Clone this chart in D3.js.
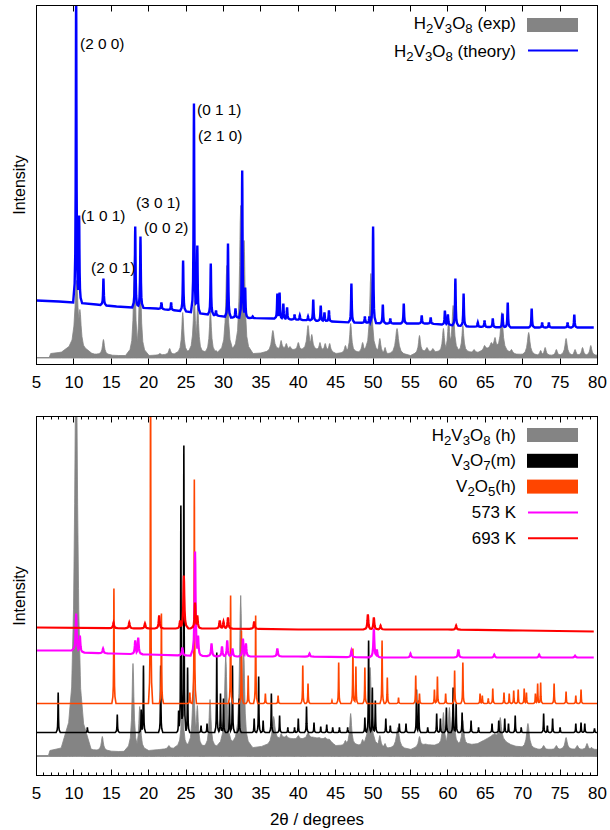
<!DOCTYPE html>
<html><head><meta charset="utf-8">
<script src="https://cdn.jsdelivr.net/npm/d3@7"></script>
<style>
body{margin:0;background:#fff}
svg text{font-family:"Liberation Sans",Arial,Helvetica,sans-serif;fill:#000}
</style></head><body><svg id="c" width="610" height="830"></svg>
<script>
// ---------------- DATA ----------------
const xTickValues = [5,10,15,20,25,30,35,40,45,50,55,60,65,70,75,80];

// Top panel: H2V3O8 experimental pattern (2θ, intensity a.u.)
const expBackground = [[5,7],[6.7,7],[6.9,11],[8,12],[9.5,14],[11.5,13],[13,10],[16,9],[20,9],[23,10],[25,11],[27,11],[29,11],[31,12],[34,11],[36,12],[38,16],[40,14],[42,15],[44,14],[45,11],[48,12],[50,12],[52,10],[55,9],[57,13],[59,12],[62,12],[64,12],[66,18],[68,12],[70,9],[72,9],[75,9],[78,9],[80,9]];
// [2θ, peak intensity, FWHM]
const expPeaks = [[10.35,84,0.5],[10.8,55,0.4],[13.95,25,0.3],[18.1,109,0.3],[18.85,102,0.3],[21.5,11,0.3],[22.8,16,0.3],[24.55,52,0.3],[26.1,64,0.35],[26.55,59,0.3],[28.25,54,0.3],[29.0,14,0.3],[30.45,99,0.35],[31.6,17,0.3],[32.3,159,0.35],[32.75,124,0.3],[36.6,34,0.4],[37.7,24,0.25],[38.4,21,0.25],[38.9,18,0.25],[40.0,22,0.3],[41.3,39,0.35],[41.8,30,0.3],[42.9,22,0.25],[43.6,21,0.25],[44.2,21,0.25],[46.3,19,0.3],[47.0,41,0.3],[48.6,22,0.3],[49.7,91,0.35],[50.9,26,0.3],[51.6,17,0.25],[53.2,36,0.45],[56.2,29,0.3],[57.2,17,0.3],[58.0,16,0.3],[59.4,36,0.3],[60.1,46,0.3],[60.7,59,0.35],[62.0,39,0.3],[63.5,15,0.3],[64.9,19,0.3],[65.8,22,0.3],[66.3,27,0.3],[67.2,52,0.35],[68.5,15,0.3],[70.8,32,0.4],[72.4,14,0.3],[73.0,17,0.3],[74.5,15,0.3],[75.8,26,0.35],[77.0,15,0.3],[78.0,17,0.3],[79.1,19,0.3]];
const expFillBase = 6.5;

// Top panel: H2V3O8 theory pattern
const theoryBackground = [[5,64],[8,63],[10,62],[13,60],[15.7,58],[18,57],[21,56],[25,53],[28,50],[31,47],[36.6,46],[41.8,44],[47,42],[52,41],[57.5,41],[62.8,38],[68,37],[79.5,37]];
const theoryPeaks = [[10.3,380],[10.7,149],[13.95,86],[18.2,138],[18.9,128],[21.7,62],[23.0,62],[24.6,104],[26.05,261],[26.5,119],[28.3,101],[29.0,54],[30.6,121],[31.6,56],[32.5,194],[32.9,77],[33.9,48],[37.2,71],[37.5,72],[38.0,61],[38.5,57],[39.5,50],[40.2,49],[41.3,48],[42.0,65],[43.0,59],[43.5,52],[44.1,54],[47.1,81],[48.9,48],[49.5,48],[50.0,138],[51.3,60],[52.3,46],[54.1,61],[56.5,49],[57.7,47],[59.6,54],[60.0,50],[61.0,86],[62.1,71],[64.0,42],[64.9,44],[66.0,46],[67.3,51],[68.0,62],[71.2,56],[72.6,42],[73.5,42],[76.0,42],[76.9,50]];

// Miller-index annotations: [label, 2θ, intensity]
const hklLabels = [["(2 0 0)",10.82,316],["(0 1 1)",26.46,250],["(2 1 0)",26.6,224],["(1 0 1)",10.95,144],["(3 0 1)",18.3,157],["(0 0 2)",19.37,132],["(2 0 1)",12.29,92]];

// Bottom panel series
const hBackground = [[5,20],[6.6,20],[6.8,25],[8,27],[9.5,30],[11.5,28],[13,25],[16,24],[20,25],[23,27],[25,28],[29,28],[31,30],[34,28],[36,30],[38,38],[40,36],[42,38],[44,36],[45,30],[48,30],[50,30],[52,27],[55,26],[57,31],[59,30],[62,30],[64,32],[66,40],[68,32],[70,27],[72,26],[75,26],[78,26],[80,26]];
const hPeaks = [[10.3,420,0.5],[10.7,102,0.4],[13.8,39,0.3],[17.9,112,0.3],[18.8,69,0.3],[21.3,26,0.3],[22.7,30,0.3],[24.5,80,0.3],[26.0,95,0.35],[26.5,70,0.3],[28.2,76,0.3],[29.0,28,0.3],[30.3,120,0.35],[31.6,35,0.3],[32.3,180,0.35],[32.7,125,0.3],[36.7,59,0.4],[37.7,42,0.25],[38.4,40,0.25],[38.9,36,0.25],[40.0,40,0.3],[41.3,43,0.35],[41.8,38,0.3],[42.8,38,0.25],[43.6,38,0.25],[44.2,36,0.25],[46.3,35,0.3],[47.0,62,0.3],[48.6,36,0.3],[49.6,108,0.35],[50.9,40,0.3],[51.6,32,0.25],[53.3,48,0.45],[56.2,39,0.3],[57.2,30,0.3],[58.0,28,0.3],[59.4,63,0.3],[60.2,68,0.3],[60.7,72,0.35],[62.0,55,0.3],[63.5,28,0.3],[64.9,33,0.3],[65.8,38,0.3],[66.3,42,0.3],[67.0,58,0.35],[68.5,28,0.3],[70.7,52,0.4],[72.8,30,0.3],[74.5,30,0.3],[75.8,38,0.35],[77.3,30,0.3],[78.6,32,0.3],[79.2,28,0.3]];
const hFillBase = 19;

const v3o7Background = [[5,43],[80,43]];
const v3o7Peaks = [[7.9,83],[11.8,48],[15.8,61],[19.0,66],[19.3,110],[21.6,110],[24.0,65],[24.3,270],[24.7,330],[25.2,108],[27.0,50],[27.8,52],[29.1,123],[29.6,82],[30.0,77],[30.8,73],[31.2,110],[32.1,77],[34.1,57],[34.7,99],[35.3,55],[36.4,82],[37.5,60],[38.6,48],[39.5,48],[40.0,57],[41.1,69],[42.1,53],[43.0,49],[43.8,51],[44.6,48],[45.5,48],[46.6,48],[48.9,58],[49.4,135],[49.9,88],[50.3,75],[51.7,57],[52.3,50],[53.5,52],[54.4,52],[55.8,86],[56.1,75],[57.3,48],[58.5,62],[59.0,57],[59.8,68],[60.7,88],[61.1,72],[61.9,63],[63.1,55],[64.1,48],[65.9,52],[66.8,55],[67.6,57],[68.1,52],[69.0,60],[69.8,48],[72.8,62],[73.3,50],[74.0,57],[75.0,48],[77.1,52],[77.8,53],[78.3,52],[79.6,47]];

const v2o5Background = [[5,72],[80,72]];
const v2o5Peaks = [[15.35,187],[20.25,420],[21.7,162],[25.5,83],[26.1,296],[30.95,180],[32.4,145],[33.3,100],[34.3,160],[35.6,82],[37.3,80],[40.6,110],[41.3,92],[44.5,75],[45.4,113],[47.3,127],[47.7,109],[48.9,108],[51.2,135],[51.9,98],[53.4,78],[55.7,100],[56.2,82],[58.2,86],[58.6,99],[59.7,82],[60.9,105],[62.0,113],[64.3,82],[64.6,80],[65.4,77],[66.0,87],[67.5,83],[68.2,82],[68.8,85],[69.4,86],[70.2,87],[70.5,83],[71.7,82],[72.0,92],[72.4,93],[74.2,92],[75.8,84],[77.1,80],[77.8,86]];

const k573Background = [[5,125],[10,125],[11,123],[15,122],[20,121],[25,120],[30,119],[40,119],[50,118],[79.5,118]];
const k573Peaks = [[10.3,162],[10.8,140],[13.9,127],[18.2,135],[18.6,138],[24.5,128],[26.2,224],[26.6,140],[28.4,132],[29.8,129],[30.5,135],[31.2,127],[32.6,137],[33.0,132],[37.2,127],[41.5,122],[47.1,125],[50.1,147],[50.5,126],[55.0,122],[61.4,126],[66.2,121],[72.2,121],[77,120]];

const k693Background = [[5,148],[20,147],[30,147],[40,146],[60,146],[70,145],[79.5,144]];
const k693Peaks = [[15.3,153],[17.4,153],[19.5,152],[21.4,160],[24.2,155],[24.7,200],[26.2,173],[26.5,160],[29.5,155],[30.0,154],[30.6,158],[34.1,154],[49.3,161],[50.1,158],[51.0,150],[61.1,150]];

const topLegend = ["H2V3O8 (exp)","H2V3O8 (theory)"];
const bottomLegend = ["H2V3O8 (h)","V3O7(m)","V2O5(h)","573 K","693 K"];

// ---------------- DRAWING ----------------
const svg = d3.select("#c");
const FONT = 16, STRETCH = 1.06;
const L = 36.5, R = 597.5;
const x = d3.scaleLinear().domain([5,80]).range([L, R]);
const pTop = {y0:364.5, y1:5.5};
const pBot = {y0:775.5, y1:416.5};
const yTop = d3.scaleLinear().domain([0,359]).range([pTop.y0, pTop.y1]);
const yBot = d3.scaleLinear().domain([0,359]).range([pBot.y0, pBot.y1]);

// peak line shape in FWHM units (rendering style)
const shape = [[-4,0],[-2,0.06],[-1.2,0.15],[-0.7,0.35],[-0.4,0.62],[-0.2,0.88],[0,1],[0.2,0.88],[0.4,0.62],[0.7,0.35],[1.2,0.15],[2,0.06],[4,0]];
const sh = d3.scaleLinear().domain(shape.map(d=>d[0])).range(shape.map(d=>d[1])).clamp(true);

function profile(bg, peaks, fw, x0, x1){
  const base = d3.scaleLinear().domain(bg.map(d=>d[0])).range(bg.map(d=>d[1])).clamp(true);
  const xs = new Set(bg.map(d=>d[0]));
  xs.add(x0); xs.add(x1);
  peaks.forEach(p=>{const w=p[2]||fw; shape.forEach(s=>xs.add(+(p[0]+s[0]*w).toFixed(4)));});
  const arr=[...xs].filter(v=>v>=x0&&v<=x1).sort((a,b)=>a-b);
  return arr.map(v=>{
    const b=base(v); let m=0;
    peaks.forEach(p=>{const w=p[2]||fw; if(Math.abs(v-p[0])>4*w) return; const h=(p[1]-base(p[0]))*sh((v-p[0])/w); if(h>m)m=h;});
    return [v,b+m];
  });
}

function clip(id, p){
  svg.append("clipPath").attr("id",id).append("rect")
    .attr("x",L).attr("y",p.y1).attr("width",R-L).attr("height",p.y0-p.y1);
}
clip("ct", pTop); clip("cb", pBot);

function stext(g, str, px, py, anchor, size){
  const fs = size||FONT;
  const t = g.append("text").attr("transform",`translate(${px},${py}) scale(${STRETCH},1)`)
    .attr("text-anchor",anchor||"start").style("font-size",fs+"px");
  const m = str.match(/^([A-Z][a-z]?\d)+/);
  if(!m){ t.text(str); return t; }
  const formula = m[0];
  const rest = str.slice(formula.length);
  const toks = formula.match(/[A-Z][a-z]?|\d/g)||[];
  let prevSub=false;
  toks.forEach(tk=>{
    if(/\d/.test(tk)){
      t.append("tspan").attr("dy",4).style("font-size",fs*0.78+"px").text(tk);
      prevSub=true;
    } else {
      t.append("tspan").attr("dy",prevSub?-4:0).text(tk); prevSub=false;
    }
  });
  if(rest) t.append("tspan").attr("dy",prevSub?-4:0).text(rest);
  return t;
}

function frame(p, minor){
  const g = svg.append("g");
  g.append("rect").attr("x",L).attr("y",p.y1).attr("width",R-L).attr("height",p.y0-p.y1)
    .attr("fill","none").attr("stroke","#000").attr("stroke-width",1);
  const mn = minor ? d3.range(5,81,1).filter(v=>v%5!==0) : [];
  xTickValues.forEach(v=>{
    const xx=Math.round(x(v)-0.5)+0.5;
    g.append("line").attr("x1",xx).attr("x2",xx).attr("y1",p.y0).attr("y2",p.y0-6).attr("stroke","#000");
    g.append("line").attr("x1",xx).attr("x2",xx).attr("y1",p.y1).attr("y2",p.y1+6).attr("stroke","#000");
  });
  mn.forEach(v=>{
    const xx=Math.round(x(v)-0.5)+0.5;
    g.append("line").attr("x1",xx).attr("x2",xx).attr("y1",p.y0).attr("y2",p.y0-3).attr("stroke","#000");
    g.append("line").attr("x1",xx).attr("x2",xx).attr("y1",p.y1).attr("y2",p.y1+3).attr("stroke","#000");
  });
  xTickValues.forEach(v=>{ stext(g, String(v), x(v), p.y0+23, "middle"); });
  svg.append("text").attr("transform",`translate(25,${(p.y0+p.y1)/2}) rotate(-90)`)
    .attr("text-anchor","middle").style("font-size","16px").text("Intensity");
}

const area = (ys, base) => d3.area().x(d=>x(d[0])).y0(ys(base)).y1(d=>ys(d[1]));
const line = ys => d3.line().x(d=>x(d[0])).y(d=>ys(d[1]));

// ---- top panel
const gt = svg.append("g").attr("clip-path","url(#ct)");
gt.append("path").datum(profile(expBackground, expPeaks, 0.3, 5, 80))
  .attr("d", area(yTop, expFillBase)).attr("fill","#848484").attr("stroke","#848484").attr("stroke-width",0.8);
gt.append("path").datum(profile(theoryBackground, theoryPeaks, 0.1, 5, 79.5))
  .attr("d", line(yTop)).attr("fill","none").attr("stroke","#0000ff").attr("stroke-width",2.4);
hklLabels.forEach(d=>stext(svg, d[0], x(d[1]), yTop(d[2]), "start", 14.5));
frame(pTop, false);

// legend top
const lt = svg.append("g");
stext(lt, topLegend[0], 516, 29, "end");
lt.append("rect").attr("x",527).attr("y",18).attr("width",51).attr("height",14).attr("fill","#848484");
stext(lt, topLegend[1], 516, 57, "end");
lt.append("line").attr("x1",528).attr("x2",578).attr("y1",50.5).attr("y2",50.5).attr("stroke","#0000ff").attr("stroke-width",2);

// ---- bottom panel
const gb = svg.append("g").attr("clip-path","url(#cb)");
gb.append("path").datum(profile(hBackground, hPeaks, 0.3, 5, 80))
  .attr("d", area(yBot, hFillBase)).attr("fill","#848484").attr("stroke","#848484").attr("stroke-width",0.8);
gb.append("path").datum(profile(v3o7Background, v3o7Peaks, 0.07, 5, 80))
  .attr("d", line(yBot)).attr("fill","none").attr("stroke","#000").attr("stroke-width",1.6);
gb.append("path").datum(profile(v2o5Background, v2o5Peaks, 0.07, 5, 80))
  .attr("d", line(yBot)).attr("fill","none").attr("stroke","#ff4500").attr("stroke-width",1.6);
gb.append("path").datum(profile(k573Background, k573Peaks, 0.15, 5, 79.5))
  .attr("d", line(yBot)).attr("fill","none").attr("stroke","#ff00ff").attr("stroke-width",2.2);
gb.append("path").datum(profile(k693Background, k693Peaks, 0.15, 5, 79.5))
  .attr("d", line(yBot)).attr("fill","none").attr("stroke","#ff0000").attr("stroke-width",2.2);
frame(pBot, true);

// legend bottom
const lb = svg.append("g");
const legCols = ["#848484","#000","#ff4500","#ff00ff","#ff0000"];
bottomLegend.forEach((s,i)=>{
  const cy = 435 + i*25.8;
  stext(lb, s, 516, cy+5.5, "end");
  if(i<3) lb.append("rect").attr("x",527).attr("y",cy-7).attr("width",51).attr("height",14).attr("fill",legCols[i]);
  else lb.append("line").attr("x1",528).attr("x2",578).attr("y1",cy).attr("y2",cy).attr("stroke",legCols[i]).attr("stroke-width",2);
});

// x title
stext(svg, "2θ / degrees", (L+R)/2, 825, "middle");
</script></body></html>
